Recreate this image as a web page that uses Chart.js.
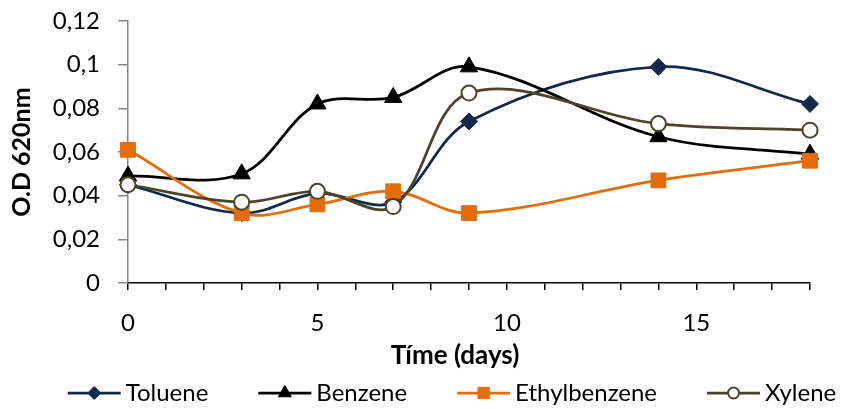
<!DOCTYPE html>
<html><head><meta charset="utf-8">
<script src="https://cdn.jsdelivr.net/npm/chart.js@4"></script>
<style>html,body{margin:0;padding:0;background:#fff}#wrap{width:844px;height:409px;position:relative}</style>
</head><body><div id="wrap"><canvas id="c" width="844" height="409"></canvas></div>
<script>
const days = [0, 3, 5, 7, 9, 14, 18];
const toluene = [0.045, 0.032, 0.041, 0.037, 0.074, 0.099, 0.082];
const benzene = [0.049, 0.050, 0.082, 0.085, 0.099, 0.067, 0.059];
const ethylbenzene = [0.061, 0.032, 0.036, 0.042, 0.032, 0.047, 0.056];
const xylene = [0.045, 0.037, 0.042, 0.035, 0.087, 0.073, 0.070];
const seriesNames = ['Toluene', 'Benzene', 'Ethylbenzene', 'Xylene'];
const yTickLabels = ['0', '0,02', '0,04', '0,06', '0,08', '0,1', '0,12'];
const xLabelValues = [0, 5, 10, 15];
const xTitle = 'Tíme (days)';
const yTitle = 'O.D 620nm';

const FONT = 'Lato, "Open Sans", sans-serif';
Chart.defaults.font.family = FONT;
Chart.defaults.color = '#000';

function pts(arr) { return days.map((d, i) => ({ x: d, y: arr[i] })); }

const styles = [
  { color: '#11294A', fill: '#11294A', point: 'rectRot', r: 8.5, bw: 1, lr: 6.5, lbw: 1 },
  { color: '#000000', fill: '#000000', point: 'triangle', r: 10, bw: 1, lr: 7.5, lbw: 1 },
  { color: '#E46C0A', fill: '#E46C0A', point: 'rect', r: 10.5, bw: 1, lr: 8, lbw: 1 },
  { color: '#4A452A', fill: '#FFFFFF', point: 'circle', r: 7.5, bw: 2, lr: 5.5, lbw: 2 }
];
const seriesData = [toluene, benzene, ethylbenzene, xylene];
const orders = [4, 3, 2, 1];

const datasets = seriesNames.map((name, i) => ({
  label: name,
  data: pts(seriesData[i]),
  borderColor: styles[i].color,
  backgroundColor: styles[i].fill,
  borderWidth: 2.75,
  tension: 0.35,
  pointStyle: styles[i].point,
  pointRadius: styles[i].r,
  pointBackgroundColor: styles[i].fill,
  pointBorderColor: styles[i].color,
  pointBorderWidth: styles[i].bw,
  clip: false,
  order: orders[i]
}));

const customPlugin = {
  id: 'custom',
  afterDraw(chart) {
    const ctx = chart.ctx;
    ctx.save();
    ctx.font = 'bold 26px ' + FONT;
    ctx.fillStyle = '#000';
    ctx.textAlign = 'center';
    ctx.textBaseline = 'middle';
    ctx.fillText(xTitle, 455, 356);
    ctx.font = '24px ' + FONT;
    const lineLen = 53, textGap = 5, itemGap = 50;
    const widths = seriesNames.map(n => ctx.measureText(n).width);
    const total = widths.reduce((a, w) => a + lineLen + textGap + w, 0) + itemGap * (seriesNames.length - 1);
    let x = 452 - total / 2;
    const y = 393;
    seriesNames.forEach((n, i) => {
      const s = styles[i];
      ctx.strokeStyle = s.color;
      ctx.lineWidth = 2.75;
      ctx.beginPath();
      ctx.moveTo(x, y);
      ctx.lineTo(x + lineLen, y);
      ctx.stroke();
      ctx.fillStyle = s.fill;
      ctx.strokeStyle = s.color;
      ctx.lineWidth = s.lbw;
      Chart.helpers.drawPoint(ctx, { pointStyle: s.point, radius: s.lr, borderWidth: s.lbw, rotation: 0 }, x + lineLen / 2, y);
      ctx.fillStyle = '#000';
      ctx.textAlign = 'left';
      ctx.textBaseline = 'middle';
      ctx.fillText(n, x + lineLen + textGap, y);
      x += lineLen + textGap + widths[i] + itemGap;
    });
    ctx.restore();
  }
};

new Chart(document.getElementById('c'), {
  type: 'line',
  data: { datasets },
  options: {
    responsive: false,
    animation: false,
    devicePixelRatio: 1,
    layout: { padding: { top: 21, right: 34, left: 0, bottom: 0 } },
    plugins: { legend: { display: false }, tooltip: { enabled: false } },
    scales: {
      x: {
        type: 'linear',
        min: 0, max: 18,
        afterFit(s) { s.height = 126; s.paddingLeft = 0; s.paddingRight = 0; },
        grid: { drawOnChartArea: false, drawTicks: true, tickLength: 7, color: '#000', lineWidth: 1.5 },
        border: { color: '#000', width: 1.5 },
        ticks: {
          stepSize: 1, autoSkip: false, maxRotation: 0, padding: 19,
          font: { size: 24 }, color: '#000',
          callback: (v) => xLabelValues.includes(v) ? String(v) : ''
        }
      },
      y: {
        min: 0, max: 0.12,
        afterFit(s) { s.width = 128; s.paddingTop = 0; s.paddingBottom = 0; },
        grid: { drawOnChartArea: false, drawTicks: true, tickLength: 10, color: '#868686', lineWidth: 1.5 },
        border: { color: '#868686', width: 1.5 },
        ticks: {
          stepSize: 0.02, padding: 18, font: { size: 24 }, color: '#000',
          callback: (v, i) => yTickLabels[i]
        },
        title: { display: true, text: yTitle, font: { size: 25, weight: 'bold' }, color: '#000', padding: { top: 7, bottom: 0 } }
      }
    }
  },
  plugins: [customPlugin]
});
</script>
</body></html>
